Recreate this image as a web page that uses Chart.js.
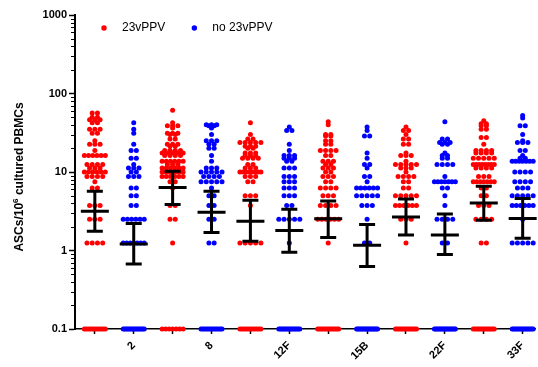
<!DOCTYPE html>
<html>
<head>
<meta charset="utf-8">
<script src="https://cdn.jsdelivr.net/npm/chart.js@4"></script>
<style>
  html, body { margin: 0; padding: 0; background: #fff; }
</style>
</head>
<body>
<canvas id="chart" width="538" height="367"></canvas>
<script>
const tickLabels = ['', '2', '', '8', '', '12F', '', '15B', '', '22F', '', '33F'];
const seriesNames = ['23vPPV', 'no 23vPPV'];
const seriesColors = ['#FF0000', '#0000FF'];

// ASCs per 10^6 cultured PBMCs, one array per column (0 = no spots, shown on the 0.1 line)
const col1 = [56.25, 56.25, 50, 50, 46.25, 46.25, 46.25, 42.5, 42.5, 35, 35, 35, 31.25, 31.25, 25, 22.5, 22.5, 22.5, 18.75,
  16.25, 16.25, 16.25, 16.25, 16.25, 16.25, 12.5, 12.5, 12.5, 12.5, 11.25, 11.25, 11.25, 10, 10, 10, 10, 10, 10,
  8.75, 8.75, 8.75, 8.75, 7.5, 6.25, 6.25, 3.75, 3.75, 3.75, 2.5, 2.5, 2.5, 1.25, 1.25, 1.25, 1.25,
  0, 0, 0, 0, 0, 0, 0, 0, 0, 0, 0, 0];
const col2 = [42.5, 35, 31.25, 22.5, 18.75, 18.75, 15, 15, 12.5, 11.25, 11.25, 11.25, 10, 10, 8.75, 8.75, 8.75,
  6.25, 6.25, 5, 5, 3.75, 3.75, 2.5, 2.5, 2.5, 2.5, 2.5, 2.5, 1.25, 1.25, 1.25, 1.25, 1.25, 1.25, 1.25,
  0, 0, 0, 0, 0, 0, 0, 0, 0, 0, 0, 0, 0, 0, 0, 0];
const col3 = [61.25, 42.5, 38.75, 38.75, 38.75, 36.25, 31.25, 31.25, 31.25, 30, 30, 26.25, 26.25, 22.5, 22.5, 22.5,
  21.25, 21.25, 18.75, 18.75, 18.75, 18.75, 17.5, 17.5, 17.5, 17.5, 17.5, 17.5, 17.5, 16.25, 16.25, 16.25, 16.25,
  13.75, 13.75, 13.75, 13.75, 13.75, 13.75, 12.5, 12.5, 12.5, 11.25, 11.25, 11.25, 11.25, 11.25, 11.25,
  10, 10, 10, 10, 10, 10, 10, 8.75, 8.75, 8.75, 8.75, 8.75, 8.75, 7.5, 7.5, 6.25, 3.75, 3.75, 2.5, 2.5, 1.25,
  0, 0, 0, 0, 0, 0, 0];
const col4 = [40, 40, 40, 38.75, 38.75, 36.25, 30, 25, 25, 25, 22.5, 22.5, 20, 20, 16.25, 13.75, 11.25, 11.25, 11.25,
  10, 10, 10, 10, 10, 8.75, 8.75, 8.75, 8.75, 7.5, 7.5, 7.5, 7.5, 7.5, 6.25, 5, 5, 3.75, 3.75, 2.5, 2.5, 1.25, 1.25,
  0, 0, 0, 0, 0, 0, 0, 0, 0, 0, 0, 0, 0, 0];
const col5 = [42.5, 30, 26.25, 26.25, 23.75, 23.75, 23.75, 23.75, 23.75, 21.25, 21.25, 21.25, 20, 20, 17.5, 17.5, 17.5,
  16.25, 16.25, 16.25, 15, 15, 15, 15, 12.5, 12.5, 11.25, 11.25, 11.25, 10, 10, 10, 10, 10, 10, 10, 10,
  8.75, 8.75, 8.75, 7.5, 7.5, 5, 5, 5, 3.75, 1.25, 1.25, 1.25, 1.25, 1.25,
  0, 0, 0, 0, 0, 0, 0, 0, 0, 0, 0, 0];
const col6 = [37.5, 33.75, 33.75, 22.5, 18.75, 16.25, 16.25, 16.25, 15, 15, 15, 13.75, 13.75, 11.25, 11.25, 11.25,
  8.75, 8.75, 8.75, 7.5, 7.5, 7.5, 6.25, 6.25, 6.25, 5, 5, 5, 3.75, 3.75, 2.5, 2.5, 2.5, 2.5, 2.5, 1.25,
  0, 0, 0, 0, 0, 0, 0, 0, 0, 0, 0, 0, 0, 0, 0, 0];
const col7 = [43.75, 40, 30, 30, 28.75, 28.75, 25, 25, 22.5, 22.5, 18.75, 18.75, 18.75, 18.75, 16.25, 16.25,
  13.75, 13.75, 13.75, 12.5, 12.5, 11.25, 11.25, 11.25, 10, 10, 8.75, 8.75, 8.75, 7.5, 7.5, 6.25, 6.25, 6.25, 6.25,
  5, 5, 5, 3.75, 3.75, 3.75, 3.75, 2.5, 2.5, 2.5, 2.5, 2.5, 2.5, 1.25,
  0, 0, 0, 0, 0, 0, 0, 0, 0, 0, 0, 0, 0, 0];
const col8 = [37.5, 33.75, 28.75, 28.75, 17.5, 15, 12.5, 12.5, 11.25, 8.75, 8.75, 7.5, 6.25, 6.25, 6.25, 6.25, 6.25, 6.25,
  5, 5, 5, 5, 5, 3.75, 3.75, 3.75, 2.5, 1.25, 1.25,
  0, 0, 0, 0, 0, 0, 0, 0, 0, 0, 0, 0, 0, 0, 0, 0, 0, 0];
const col9 = [37.5, 33.75, 33.75, 30, 26.25, 26.25, 22.5, 22.5, 17.5, 16.25, 16.25, 16.25, 13.75, 12.5, 12.5, 12.5, 12.5, 12.5,
  11.25, 11.25, 11.25, 10, 8.75, 8.75, 8.75, 8.75, 7.5, 7.5, 6.25, 6.25, 5, 5, 5, 5, 5,
  3.75, 3.75, 3.75, 3.75, 3.75, 3.75, 2.5, 2.5, 2.5, 1.25,
  0, 0, 0, 0, 0, 0, 0, 0, 0, 0, 0, 0, 0, 0];
const col10 = [43.75, 26.25, 26.25, 23.75, 23.75, 23.75, 22.5, 22.5, 17.5, 16.25, 16.25, 15, 15, 12.5, 12.5, 12.5, 12.5,
  8.75, 7.5, 7.5, 7.5, 7.5, 7.5, 7.5, 7.5, 6.25, 6.25, 5, 3.75, 2.5, 2.5, 2.5, 2.5, 1.25, 1.25,
  0, 0, 0, 0, 0, 0, 0, 0, 0, 0, 0, 0, 0, 0, 0, 0, 0, 0];
const col11 = [45, 41.25, 41.25, 38.75, 38.75, 35, 35, 27.5, 27.5, 22.5, 18.75, 18.75, 18.75, 18.75, 17.5, 17.5, 17.5, 17.5,
  15, 15, 15, 15, 15, 12.5, 12.5, 12.5, 12.5, 12.5, 12.5, 12.5, 12.5, 11.25, 11.25, 11.25, 11.25,
  8.75, 8.75, 8.75, 7.5, 7.5, 7.5, 7.5, 7.5, 7.5, 7.5, 6.25, 6.25, 5, 5, 3.75, 3.75, 3.75, 2.5, 2.5, 2.5, 2.5, 1.25, 1.25,
  0, 0, 0, 0, 0, 0, 0, 0, 0, 0, 0, 0, 0, 0];
const col12 = [52.5, 48.75, 38.75, 38.75, 30, 25, 23.75, 23.75, 23.75, 18.75, 18.75, 16.25, 15, 15,
  13.75, 13.75, 13.75, 13.75, 13.75, 13.75, 13.75, 10, 10, 10, 10, 7.5, 7.5, 7.5, 7.5, 6.25, 6.25, 6.25,
  5, 5, 5, 5, 5, 3.75, 3.75, 3.75, 3.75, 3.75, 3.75, 2.5, 1.25, 1.25, 1.25, 1.25, 1.25,
  0, 0, 0, 0, 0, 0, 0, 0, 0, 0, 0, 0, 0, 0, 0, 0];
const columns = [col1, col2, col3, col4, col5, col6, col7, col8, col9, col10, col11, col12];

// median with interquartile range per column
const medians = [3.17, 1.21, 6.35, 3.07, 2.36, 1.8, 2.53, 1.17, 2.68, 1.57, 4.04, 2.56];
const lowerQ = [1.76, 0.675, 3.85, 1.69, 1.31, 0.95, 1.46, 0.625, 1.57, 0.89, 2.43, 1.43];
const upperQ = [5.7, 2.21, 10.2, 5.7, 4.37, 3.36, 4.28, 2.14, 4.54, 2.92, 6.6, 4.6];

const floorValue = 0.1;
const dotGap = 0.135;
const rowHalf = 0.27;

// scatter-dot layout: equal values sit in one row, centred on the column
function swarm(values, col) {
  const rows = new Map();
  values.forEach(v => rows.set(v, (rows.get(v) || 0) + 1));
  const pts = [];
  rows.forEach((n, v) => {
    let gap = dotGap;
    if (n > 1 && (n - 1) * gap / 2 > rowHalf) gap = 2 * rowHalf / (n - 1);
    for (let k = 0; k < n; k++) {
      pts.push({x: col + (k - (n - 1) / 2) * gap, y: v === 0 ? floorValue : v});
    }
  });
  return pts;
}

const redPoints = [];
const bluePoints = [];
columns.forEach((vals, i) => {
  (i % 2 === 0 ? redPoints : bluePoints).push(...swarm(vals, i));
});

const font = 'Arial, "Liberation Sans", Helvetica, sans-serif';

const medianBars = {
  id: 'medianBars',
  afterDatasetsDraw(chart) {
    const ctx = chart.ctx;
    const xs = chart.scales.x;
    const ys = chart.scales.y;
    ctx.save();
    ctx.strokeStyle = '#000';
    ctx.lineWidth = 3;
    medians.forEach((m, i) => {
      const x = xs.getPixelForValue(i);
      const yM = ys.getPixelForValue(m);
      const yL = ys.getPixelForValue(lowerQ[i]);
      const yU = ys.getPixelForValue(upperQ[i]);
      ctx.beginPath();
      ctx.moveTo(x, yL); ctx.lineTo(x, yU);
      ctx.moveTo(x - 14, yM); ctx.lineTo(x + 14, yM);
      ctx.moveTo(x - 8, yL); ctx.lineTo(x + 8, yL);
      ctx.moveTo(x - 8, yU); ctx.lineTo(x + 8, yU);
      ctx.stroke();
    });
    ctx.restore();
  }
};

const extras = {
  id: 'extras',
  afterDraw(chart) {
    const ctx = chart.ctx;
    const ys = chart.scales.y;
    const area = chart.chartArea;
    ctx.save();
    // minor log ticks
    ctx.strokeStyle = '#000';
    ctx.lineWidth = 1;
    for (let k = -1; k < 3; k++) {
      for (let m = 2; m < 10; m++) {
        const y = Math.round(ys.getPixelForValue(m * Math.pow(10, k))) + 0.5;
        ctx.beginPath();
        ctx.moveTo(area.left - 4, y);
        ctx.lineTo(area.left, y);
        ctx.stroke();
      }
    }
    // y axis title with superscript
    ctx.translate(23, (area.top + area.bottom) / 2 + 5);
    ctx.rotate(-Math.PI / 2);
    ctx.fillStyle = '#000';
    ctx.textBaseline = 'alphabetic';
    const big = 'bold 12px ' + font;
    const small = 'bold 8px ' + font;
    const p1 = 'ASCs/10', p2 = '6', p3 = ' cultured PBMCs';
    ctx.font = big;
    const w1 = ctx.measureText(p1).width, w3 = ctx.measureText(p3).width;
    ctx.font = small;
    const w2 = ctx.measureText(p2).width;
    let x = -(w1 + w2 + w3) / 2;
    ctx.font = big; ctx.fillText(p1, x, 0); x += w1;
    ctx.font = small; ctx.fillText(p2, x, -5); x += w2;
    ctx.font = big; ctx.fillText(p3, x, 0);
    ctx.restore();

    // legend
    ctx.save();
    ctx.font = '12px ' + font;
    ctx.textBaseline = 'middle';
    let lx = area.left + 29;
    const ly = 28;
    chart.data.datasets.forEach(ds => {
      ctx.fillStyle = ds.backgroundColor;
      ctx.beginPath();
      ctx.arc(lx, ly, 2.7, 0, Math.PI * 2);
      ctx.fill();
      ctx.fillStyle = '#000';
      ctx.fillText(ds.label, lx + 18, ly);
      lx += 18 + ctx.measureText(ds.label).width + 29;
    });
    ctx.restore();
  }
};

new Chart(document.getElementById('chart').getContext('2d'), {
  type: 'scatter',
  data: {
    datasets: [
      {label: seriesNames[0], data: redPoints, backgroundColor: seriesColors[0], borderWidth: 0,
       pointRadius: 2.5, pointHoverRadius: 2.5, clip: false},
      {label: seriesNames[1], data: bluePoints, backgroundColor: seriesColors[1], borderWidth: 0,
       pointRadius: 2.5, pointHoverRadius: 2.5, clip: false}
    ]
  },
  options: {
    responsive: false,
    animation: false,
    events: [],
    layout: {padding: {top: 15, right: 0, bottom: 0, left: 0}},
    plugins: {legend: {display: false}, tooltip: {enabled: false}},
    scales: {
      x: {
        type: 'linear',
        min: -0.51,
        max: 11.33,
        afterBuildTicks: scale => { scale.ticks = tickLabels.map((t, i) => ({value: i})); },
        afterFit: scale => { scale.height = 38; scale.paddingLeft = 0; scale.paddingRight = 0; },
        ticks: {
          autoSkip: false,
          minRotation: 45,
          maxRotation: 45,
          padding: 5,
          color: '#000',
          font: {family: font, size: 11, weight: 'bold'},
          callback: v => tickLabels[v] || ''
        },
        grid: {drawOnChartArea: false, tickLength: 5, tickColor: '#000', tickWidth: 1.5},
        border: {color: '#000', width: 1.5}
      },
      y: {
        type: 'logarithmic',
        min: 0.1,
        max: 1000,
        afterBuildTicks: scale => { scale.ticks = [0.1, 1, 10, 100, 1000].map(v => ({value: v})); },
        afterFit: scale => { scale.width = 75; },
        ticks: {
          padding: 2,
          color: '#000',
          font: {family: font, size: 11, weight: 'bold'},
          callback: v => String(v)
        },
        grid: {drawOnChartArea: false, tickLength: 6, tickColor: '#000', tickWidth: 1.5},
        border: {color: '#000', width: 2}
      }
    }
  },
  plugins: [medianBars, extras]
});
</script>
</body>
</html>
